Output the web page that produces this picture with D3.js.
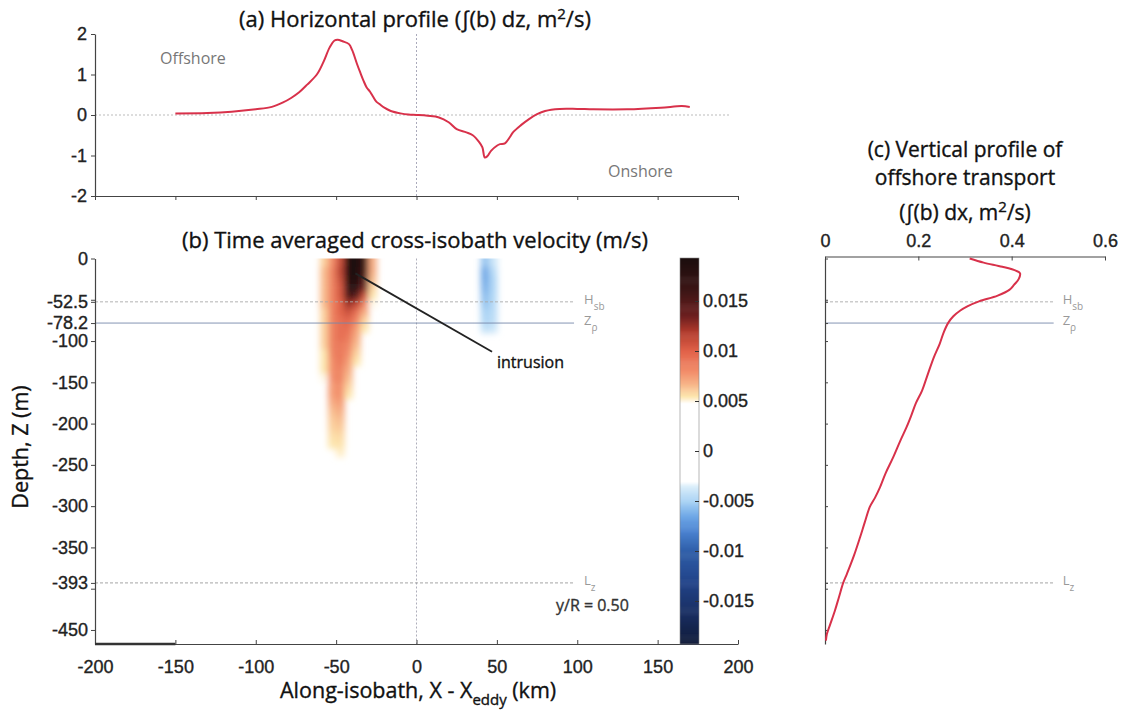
<!DOCTYPE html>
<html><head><meta charset="utf-8">
<script src="https://cdn.jsdelivr.net/npm/d3@7"></script>
<style>body{margin:0;background:#fff} svg{font-family:"Open Sans",sans-serif}
text.b{stroke-width:0.35px;paint-order:stroke}</style>
</head><body><svg id="c" width="1121" height="715"></svg>
<script>
// ---------- data ----------
const profX = [-150,-130,-115,-100,-90,-83,-78,-73,-68,-62,-58,-54,-51,-49,-46,-42,-40,-37,-35,-33,-31,-29,-27,-25,-23,-20,-16,-10,-5,0,7,14,20,25,31,35,39,41,42.5,44,46.5,50,52,55,58,60,65,70,75,80,89,100,110,131,152,165,170];
const profA = [0.04,0.05,0.08,0.14,0.2,0.31,0.42,0.56,0.75,1.0,1.3,1.67,1.84,1.86,1.82,1.75,1.6,1.26,1.05,0.85,0.68,0.58,0.45,0.33,0.27,0.18,0.1,0.04,0.01,0.0,-0.02,-0.06,-0.18,-0.35,-0.43,-0.5,-0.67,-0.8,-1.05,-1.02,-0.88,-0.76,-0.72,-0.7,-0.55,-0.43,-0.25,-0.1,0.02,0.1,0.15,0.15,0.14,0.14,0.18,0.22,0.2];

const depthC = [0,5,10,15,18,25,32,38,45,52,58,63,70,78,90,103,120,144,160,175,190,204,220,241,260,277,290,301,320,338,360,382,393,410,427,445,455,463];
const transC = [0.31,0.34,0.38,0.41,0.418,0.415,0.405,0.395,0.37,0.33,0.305,0.29,0.275,0.264,0.254,0.246,0.233,0.218,0.208,0.195,0.185,0.175,0.162,0.146,0.13,0.118,0.107,0.096,0.085,0.075,0.062,0.047,0.039,0.03,0.021,0.01,0.004,0.002];

const xTicks = [-200,-150,-100,-50,0,50,100,150,200];
const aTicks = [2,1,0,-1,-2];
const zLabelTicks = [0,-52.5,-78.2,-100,-150,-200,-250,-300,-350,-393,-450];
const zPlainTicks = [-50,-400];
const cTicks = [0,0.2,0.4,0.6];
const cbarTicks = [0.015,0.01,0.005,0,-0.005,-0.01,-0.015];
const refDepths = [-52.5,-78.2,-393];
const refMain = ["H","Z","L"];
const refSub = ["sb","ρ","z"];
const bathyX = [-200,-150];

// heat map cells (velocity in m/s), centres of 5 km x 10 m cells
const redX = [-57.5,-52.5,-47.5,-42.5,-37.5,-32.5,-27.5];
const redZ = [5,15,25,35,45,55,65,75,85,95,105,115,125,135,145,155,165,175,185,195,205,215,225,235];
const redV = [
 [0.0060,0.0080,0.0110,0.0190,0.0193,0.0165,0.0070],
 [0.0065,0.0085,0.0115,0.0192,0.0193,0.0160,0.0070],
 [0.0065,0.0085,0.0110,0.0188,0.0190,0.0150,0.0065],
 [0.0065,0.0085,0.0105,0.0175,0.0178,0.0135,0.0060],
 [0.0065,0.0085,0.0105,0.0155,0.0150,0.0110,0.0055],
 [0.0065,0.0085,0.0100,0.0125,0.0115,0.0085,0.0050],
 [0.0060,0.0085,0.0100,0.0110,0.0095,0.0070,0.0],
 [0.0060,0.0085,0.0095,0.0100,0.0085,0.0060,0.0],
 [0.0060,0.0085,0.0095,0.0095,0.0075,0.0055,0.0],
 [0.0060,0.0085,0.0095,0.0090,0.0070,0.0,0.0],
 [0.0060,0.0085,0.0090,0.0085,0.0065,0.0,0.0],
 [0.0055,0.0085,0.0090,0.0080,0.0060,0.0,0.0],
 [0.0055,0.0080,0.0090,0.0075,0.0055,0.0,0.0],
 [0.0055,0.0080,0.0085,0.0070,0.0,0.0,0.0],
 [0.0050,0.0080,0.0085,0.0065,0.0,0.0,0.0],
 [0.0,0.0075,0.0080,0.0060,0.0,0.0,0.0],
 [0.0,0.0075,0.0080,0.0055,0.0,0.0,0.0],
 [0.0,0.0070,0.0075,0.0,0.0,0.0,0.0],
 [0.0,0.0065,0.0070,0.0,0.0,0.0,0.0],
 [0.0,0.0062,0.0065,0.0,0.0,0.0,0.0],
 [0.0,0.0060,0.0062,0.0,0.0,0.0,0.0],
 [0.0,0.0057,0.0058,0.0,0.0,0.0,0.0],
 [0.0,0.0055,0.0056,0.0,0.0,0.0,0.0],
 [0.0,0.0,0.0053,0.0,0.0,0.0,0.0]
];
const blueX = [42.5,47.5];
const blueZ = [5,15,25,35,45,55,65,75,85];
const blueV = [
 [-0.0055,-0.0040],
 [-0.0065,-0.0045],
 [-0.0065,-0.0048],
 [-0.0062,-0.0048],
 [-0.0058,-0.0047],
 [-0.0055,-0.0046],
 [-0.0050,-0.0045],
 [-0.0048,-0.0044],
 [-0.0042,-0.0040]
];

const cmapStops  = [-0.0193,-0.016,-0.013,-0.010,-0.008,-0.0065,-0.005,-0.0035,-0.003,0.0048,0.0055,0.0065,0.008,0.010,0.012,0.0135,0.016,0.0193];
const cmapColors = ['#101a38','#1a3064','#22448a','#2f5ea8','#4a82d0','#6fa8e6','#a8d2f4','#dbeefa','#ffffff','#ffffff','#fde6ae','#f8bc8e','#f28d6a','#e2634a','#b03a2c','#6e2020','#3e1616','#1c0e0e'];

// ---------- scales ----------
const svg = d3.select("#c");
const x  = d3.scaleLinear([-200,200],[95,738]);
const ya = d3.scaleLinear([-2,2],[196,34]);
const yb = d3.scaleLinear([0,-467],[258.5,644]);
const xc = d3.scaleLinear([0,0.6],[825,1105]);
const cy = d3.scaleLinear([-0.0193,0.0193],[644,258]);
const color = d3.scaleLinear(cmapStops,cmapColors).clamp(true);
const RED = "#d8314a";
const AX = "#444";

function styleAxis(g){
  g.select(".domain").attr("stroke",AX).attr("stroke-width",1.2);
  g.selectAll(".tick line").attr("stroke",AX);
  g.selectAll(".tick text").attr("class","b").attr("fill","#222").attr("stroke","#222").style("font-size","18px");
}
function T(sel, fill){ return sel.append("text").attr("class","b").attr("fill",fill).attr("stroke",fill); }

// ---------- panel (a) ----------
T(svg,"#111").attr("x",415).attr("y",27).attr("text-anchor","middle").style("font-size","22px")
  .call(t=>{t.append("tspan").text("(a) Horizontal profile (∫(b) dz, m");
    t.append("tspan").attr("dy",-8).style("font-size","15px").text("2");
    t.append("tspan").attr("dy",8).text("/s)");});
svg.append("line").attr("x1",x(-200)).attr("x2",x(195)).attr("y1",ya(0)).attr("y2",ya(0))
  .attr("stroke","#bbb").attr("stroke-dasharray","2,2");
svg.append("line").attr("x1",x(0)).attr("x2",x(0)).attr("y1",ya(2)).attr("y2",ya(-2))
  .attr("stroke","#aab").attr("stroke-dasharray","2,2");
svg.append("g").attr("transform",`translate(${x(-200)},0)`)
  .call(d3.axisLeft(ya).tickValues(aTicks).tickSize(4).tickSizeOuter(0).tickPadding(4).tickFormat(d=>String(d)))
  .call(styleAxis);
svg.append("g").attr("transform",`translate(0,${ya(-2)})`)
  .call(d3.axisBottom(x).tickValues(xTicks).tickSize(4).tickSizeOuter(0).tickFormat(""))
  .call(styleAxis);
svg.append("path").datum(profX.map((v,i)=>[v,profA[i]]))
  .attr("fill","none").attr("stroke",RED).attr("stroke-width",2)
  .attr("d",d3.line().x(d=>x(d[0])).y(d=>ya(d[1])).curve(d3.curveCatmullRom));
svg.append("text").attr("x",160).attr("y",64).attr("fill","#777").style("font-size","16px").text("Offshore");
svg.append("text").attr("x",608).attr("y",177).attr("fill","#777").style("font-size","16px").text("Onshore");

// ---------- panel (b) ----------
T(svg,"#111").attr("x",415).attr("y",248).attr("text-anchor","middle").style("font-size","22px")
  .text("(b) Time averaged cross-isobath velocity (m/s)");
const defs = svg.append("defs");
defs.append("clipPath").attr("id","clipb").append("rect")
  .attr("x",x(-200)).attr("y",yb(0)).attr("width",x(200)-x(-200)).attr("height",yb(-467)-yb(0));
defs.append("filter").attr("id","blur").attr("x","-30%").attr("y","-30%").attr("width","160%").attr("height","160%")
  .append("feGaussianBlur").attr("stdDeviation",3.2);
const heat = svg.append("g").attr("clip-path","url(#clipb)").append("g").attr("filter","url(#blur)");
function cells(xs,zs,vals){
  zs.forEach((z,i)=>xs.forEach((cx,j)=>{
    const v = vals[i][j]; if(!v) return;
    const top = i===0 ? z-15 : z-5;
    heat.append("rect").attr("x",x(cx-2.5)).attr("width",x(cx+2.5)-x(cx-2.5)+0.5)
      .attr("y",yb(-top)).attr("height",yb(-(z+5))-yb(-top)+0.5).attr("fill",color(v));
  }));
}
cells(redX,redZ,redV);
cells(blueX,blueZ,blueV);

svg.append("line").attr("x1",x(0)).attr("x2",x(0)).attr("y1",yb(0)).attr("y2",yb(-467))
  .attr("stroke","#99a").attr("stroke-dasharray","2,2").attr("stroke-width",0.8);
const refStyles = [{c:"#aaa",d:"3,2"},{c:"#7788aa",d:"none"},{c:"#999",d:"3,2"}];
refDepths.forEach((d,i)=>{
  svg.append("line").attr("x1",x(-200)).attr("x2",x(98)).attr("y1",yb(d)).attr("y2",yb(d))
    .attr("stroke",refStyles[i].c).attr("stroke-dasharray",refStyles[i].d).attr("stroke-width",0.9);
  svg.append("line").attr("x1",xc(0)).attr("x2",xc(0.49)).attr("y1",yb(d)).attr("y2",yb(d))
    .attr("stroke",refStyles[i].c).attr("stroke-dasharray",refStyles[i].d).attr("stroke-width",0.9);
  [x(98)+10, xc(0.49)+9].forEach(px=>{
    const t = svg.append("text").attr("x",px).attr("y",yb(d)+2).attr("fill","#999").style("font-size","13px");
    t.append("tspan").text(refMain[i]);
    t.append("tspan").attr("dy",6).style("font-size","10px").text(refSub[i]);
  });
});

// annotation
svg.append("line").attr("x1",x(-38)).attr("y1",yb(-18)).attr("x2",x(47)).attr("y2",yb(-113))
  .attr("stroke","#222").attr("stroke-width",1.8);
T(svg,"#111").attr("x",497).attr("y",368).style("font-size","16px").text("intrusion");
T(svg,"#333").attr("x",556).attr("y",611).style("font-size","16px").text("y/R = 0.50");

// axes (b)
svg.append("g").attr("transform",`translate(${x(-200)},0)`)
  .call(d3.axisLeft(yb).tickValues(zLabelTicks.concat(zPlainTicks)).tickSize(4).tickSizeOuter(0).tickPadding(3)
    .tickFormat(d=>zLabelTicks.includes(d)?String(d):""))
  .call(styleAxis);
svg.append("g").attr("transform",`translate(0,${yb(-467)})`)
  .call(d3.axisBottom(x).tickValues(xTicks).tickSizeInner(-4).tickSizeOuter(0).tickPadding(16).tickFormat(d=>String(d)))
  .call(styleAxis);
svg.append("line").attr("x1",x(bathyX[0])).attr("x2",x(bathyX[1])).attr("y1",yb(-467)).attr("y2",yb(-467))
  .attr("stroke","#333").attr("stroke-width",2.4);

T(svg,"#111").attr("transform",`translate(28,447) rotate(-90)`).attr("text-anchor","middle")
  .style("font-size","21.5px").text("Depth, Z (m)");
T(svg,"#111").attr("x",280).attr("y",698).style("font-size","21.5px")
  .call(t=>{t.append("tspan").text("Along-isobath, X - X");
    t.append("tspan").attr("dy",7).style("font-size","15px").text("eddy");
    t.append("tspan").attr("dy",-7).text(" (km)");});

// colorbar
const cbX = 680, cbW = 19;
const steps = d3.range(0,400).map(i=>-0.0193+i*(0.0386/400));
svg.append("g").selectAll("rect").data(steps).join("rect")
  .attr("x",cbX).attr("width",cbW).attr("y",d=>cy(d+0.0386/400)).attr("height",d=>cy(d)-cy(d+0.0386/400)+0.6)
  .attr("fill",d=>color(d+0.0193/400));
svg.append("rect").attr("x",cbX).attr("y",cy(0.0193)).attr("width",cbW).attr("height",cy(-0.0193)-cy(0.0193))
  .attr("fill","none").attr("stroke","#888").attr("stroke-width",0.6);
const cb = svg.append("g").attr("transform",`translate(${cbX+cbW},0)`)
  .call(d3.axisRight(cy).tickValues(cbarTicks).tickSizeInner(-4).tickSizeOuter(0).tickPadding(4).tickFormat(d=>String(d)))
  .call(styleAxis);
cb.select(".domain").remove();
cb.selectAll(".tick line").attr("stroke","#333");

// ---------- panel (c) ----------
[["(c) Vertical profile of",157],["offshore transport",185]].forEach(([s,yy])=>
  T(svg,"#111").attr("x",965).attr("y",yy).attr("text-anchor","middle").style("font-size","21px").text(s));
T(svg,"#111").attr("x",965).attr("y",220).attr("text-anchor","middle").style("font-size","21px")
  .call(t=>{t.append("tspan").text("(∫(b) dx, m");
    t.append("tspan").attr("dy",-8).style("font-size","15px").text("2");
    t.append("tspan").attr("dy",8).text("/s)");});
svg.append("g").attr("transform",`translate(0,${yb(0)-2})`)
  .call(d3.axisTop(xc).tickValues(cTicks).tickSizeInner(-4).tickSizeOuter(0).tickPadding(10).tickFormat(d=>String(d)))
  .call(styleAxis);
svg.append("g").attr("transform",`translate(${xc(0)},0)`)
  .call(d3.axisLeft(yb).tickValues(zLabelTicks.concat(zPlainTicks)).tickSizeInner(-3).tickSizeOuter(0).tickFormat(""))
  .call(styleAxis);
svg.append("path").datum(depthC.map((d,i)=>[transC[i],-d]))
  .attr("fill","none").attr("stroke",RED).attr("stroke-width",2)
  .attr("d",d3.line().x(d=>xc(d[0])).y(d=>yb(d[1])).curve(d3.curveCatmullRom));
</script></body></html>
